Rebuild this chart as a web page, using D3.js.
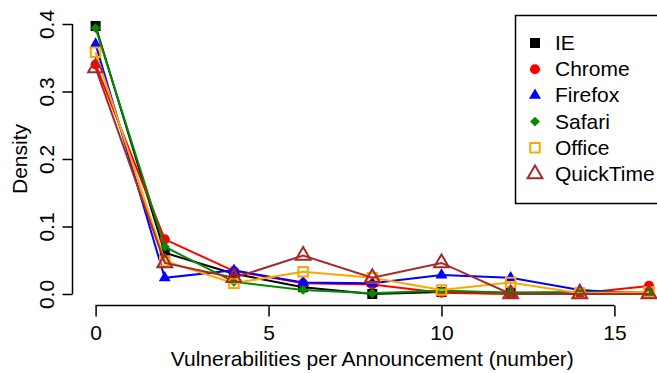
<!DOCTYPE html>
<html>
<head>
<meta charset="utf-8">
<script src="https://cdn.jsdelivr.net/npm/d3@7"></script>
<style>
  body { margin: 0; background: #fff; }
  svg text { font-family: "Liberation Sans", Arial, sans-serif; font-size: 21px; fill: #000; }
</style>
</head>
<body>
<svg id="chart" width="657" height="373"></svg>
<script>
// data
const vulns = [0, 2, 4, 6, 8, 10, 12, 14, 16];
const browsers = ["IE", "Chrome", "Firefox", "Safari", "Office", "QuickTime"];
const ieDensity        = [0.397, 0.061, 0.030, 0.010, 0.000, 0.003, 0.002, 0.002, 0.002];
const chromeDensity    = [0.340, 0.081, 0.034, 0.016, 0.014, 0.002, 0.000, 0.001, 0.012];
const firefoxDensity   = [0.370, 0.024, 0.035, 0.017, 0.016, 0.028, 0.024, 0.006, 0.000];
const safariDensity    = [0.394, 0.070, 0.018, 0.006, 0.001, 0.005, 0.002, 0.003, 0.002];
const officeDensity    = [0.358, 0.049, 0.016, 0.033, 0.024, 0.006, 0.017, 0.001, 0.003];
const quicktimeDensity = [0.335, 0.046, 0.024, 0.057, 0.024, 0.046, 0.000, 0.000, 0.000];
const xTicks = [0, 5, 10, 15];
const yTicks = [0.0, 0.1, 0.2, 0.3, 0.4];

const values = [ieDensity, chromeDensity, firefoxDensity, safariDensity, officeDensity, quicktimeDensity];

// styles per series
const styles = [
  { color: "#000000", shape: d3.symbolSquare, size: 100, fill: true, rot: 0 },
  { color: "#ff0000", shape: d3.symbolCircle, size: 80, fill: true, rot: 0 },
  { color: "#0000ff", shape: d3.symbolTriangle, size: 62, fill: true, rot: 0 },
  { color: "#008b00", shape: d3.symbolSquare, size: 48, fill: true, rot: 45 },
  { color: "#ffa500", shape: d3.symbolSquare, size: 90, fill: false, rot: 0 },
  { color: "#a52a2a", shape: d3.symbolTriangle, size: 95, fill: false, rot: 0 }
];

const svg = d3.select("#chart");

const x = d3.scaleLinear().domain([0, 16]).range([95.6, 649]);
const y = d3.scaleLinear().domain([0, 0.4]).range([294, 24]);

const axisX = 72.5;   // left axis position
const axisY = 305.5;  // bottom axis position

// Y axis
const gy = svg.append("g")
  .attr("transform", "translate(" + axisX + ",0)")
  .call(d3.axisLeft(y).tickValues(yTicks).tickSize(10).tickSizeOuter(0).tickFormat(d3.format(".1f")));
gy.select(".domain").remove();
gy.selectAll(".tick line").attr("stroke", "#000").attr("stroke-width", 1.5);
gy.selectAll(".tick text")
  .attr("transform", "rotate(-90)")
  .attr("x", 0)
  .attr("y", -19)
  .attr("dy", null)
  .attr("text-anchor", "middle")
  .style("font-size", "21px")
  .style("font-family", null);
gy.append("line")
  .attr("x1", 0).attr("x2", 0)
  .attr("y1", y(yTicks[0])).attr("y2", y(yTicks[yTicks.length - 1]))
  .attr("stroke", "#000").attr("stroke-width", 1.5);

// X axis
const gx = svg.append("g")
  .attr("transform", "translate(0," + axisY + ")")
  .call(d3.axisBottom(x).tickValues(xTicks).tickSize(11).tickSizeOuter(0));
gx.select(".domain").remove();
gx.selectAll(".tick line").attr("stroke", "#000").attr("stroke-width", 1.5);
gx.selectAll(".tick text")
  .attr("y", 34)
  .attr("dy", null)
  .style("font-size", "21px")
  .style("font-family", null);
gx.append("line")
  .attr("x1", x(xTicks[0])).attr("x2", x(xTicks[xTicks.length - 1]))
  .attr("y1", 0).attr("y2", 0)
  .attr("stroke", "#000").attr("stroke-width", 1.5);

// axis titles
svg.append("text")
  .attr("x", (x(0) + x(16)) / 2)
  .attr("y", 366)
  .attr("text-anchor", "middle")
  .text("Vulnerabilities per Announcement (number)");

svg.append("text")
  .attr("transform", "translate(27," + (y(0) + y(0.4)) / 2 + ") rotate(-90)")
  .attr("text-anchor", "middle")
  .text("Density");

// series
const line = d3.line()
  .x((d, i) => x(vulns[i]))
  .y(d => y(d));

function marker(g, st) {
  g.append("path")
    .attr("d", d3.symbol().type(st.shape).size(st.size)())
    .attr("transform", function() {
      const t = d3.select(this.parentNode).attr("data-t");
      return t + (st.rot ? " rotate(" + st.rot + ")" : "");
    })
    .attr("fill", st.fill ? st.color : "none")
    .attr("stroke", st.fill ? "none" : st.color)
    .attr("stroke-width", st.fill ? 0 : 2);
}

values.forEach((vals, s) => {
  const st = styles[s];
  const g = svg.append("g").attr("class", "series");
  g.append("path")
    .datum(vals)
    .attr("d", line)
    .attr("fill", "none")
    .attr("stroke", st.color)
    .attr("stroke-width", 2);
  vals.forEach((v, i) => {
    const mg = g.append("g").attr("data-t", "translate(" + x(vulns[i]) + "," + y(v) + ")");
    marker(mg, st);
  });
});

// legend
const legend = svg.append("g");
legend.append("rect")
  .attr("x", 515.5).attr("y", 15.5)
  .attr("width", 160).attr("height", 188)
  .attr("fill", "#fff")
  .attr("stroke", "#000").attr("stroke-width", 1.5);

const ly = d3.scalePoint().domain(browsers).range([43, 174]);
browsers.forEach((name, i) => {
  const st = styles[i];
  const mg = legend.append("g").attr("data-t", "translate(535," + ly(name) + ")");
  marker(mg, st);
  legend.append("text")
    .attr("x", 555)
    .attr("y", ly(name) + 7)
    .text(name);
});
</script>
</body>
</html>
